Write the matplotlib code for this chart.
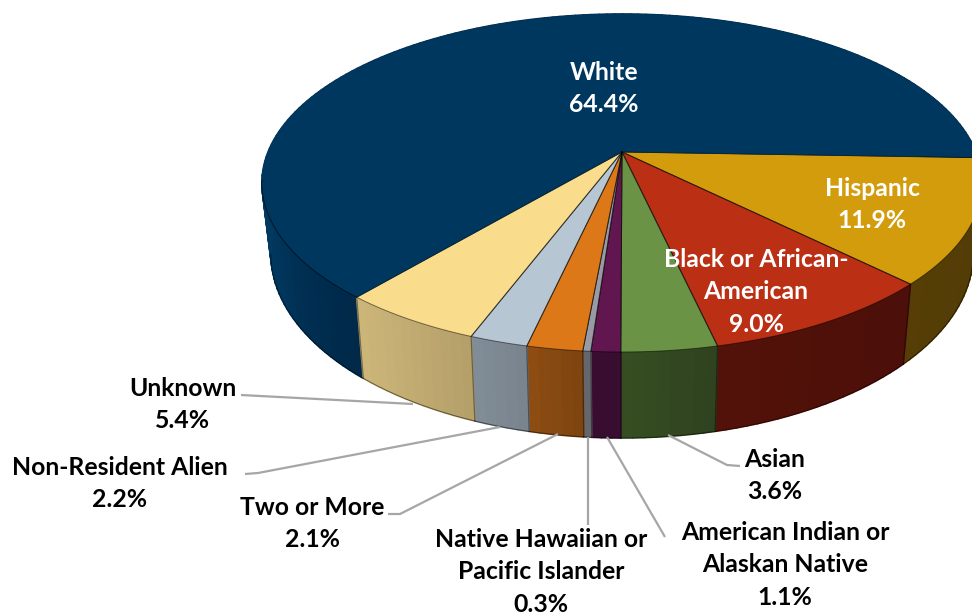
import numpy as np
import matplotlib
matplotlib.use("Agg")
import matplotlib.pyplot as plt
from matplotlib.collections import PolyCollection
from matplotlib.colors import to_rgb
from matplotlib.patches import Polygon

# Enrollment shares, clockwise from the Hispanic slice
categories = ["Hispanic", "Black or African-American", "Asian",
              "American Indian or Alaskan Native",
              "Native Hawaiian or Pacific Islander", "Two or More",
              "Non-Resident Alien", "Unknown", "White"]
shares = [11.9, 9.0, 3.6, 1.1, 0.3, 2.1, 2.2, 5.4, 64.4]

top_colors = ["#d29c0c", "#bb2f14", "#6a9345", "#621650", "#999aa5",
              "#dc7818", "#b6c6d2", "#fadd8c", "#00375f"]
side_colors = [("#533c06", "#563e06"), ("#4c0f09", "#531209"),
               ("#2f4320", "#364d22"), ("#380d2f", "#380d2f"),
               ("#66666e", "#66666e"), ("#7f4510", "#8c4c12"),
               ("#79848e", "#808c96"), ("#b5a06a", "#ccb578"),
               ("#00294a", "#013a62")]

# Slice text: (lines, centre x, first-line y, colour)
slice_labels = [
    (["White", "64.4%"], 604, 71, "white"),
    (["Hispanic", "11.9%"], 872, 187, "white"),
    (["Black or African-", "American", "9.0%"], 756, 258, "white"),
    (["Asian", "3.6%"], 775, 458, "black"),
    (["American Indian or", "Alaskan Native", "1.1%"], 785, 531, "black"),
    (["Native Hawaiian or", "Pacific Islander", "0.3%"], 541, 538, "black"),
    (["Two or More", "2.1%"], 312, 506, "black"),
    (["Non-Resident Alien", "2.2%"], 120, 466, "black"),
    (["Unknown", "5.4%"], 183, 387, "black"),
]
leaders = [
    [(241, 395), (413, 404)],
    [(245, 474), (258, 473), (500, 427)],
    [(388, 514), (400, 514), (558, 434)],
    [(588, 437), (588, 525)],
    [(607, 437), (665, 537)],
    [(668, 435), (727, 465), (740, 466)],
]

plt.rcParams["font.family"] = ["Lato", "DejaVu Sans"]

# Perspective parameters of the tilted disc, in pixels
CX, CY = 622.0, 152.0
A, B, K = 354.0, 163.3, 0.1834
START_DEG = -1.96
LINE_PITCH = 32.4


def top_rim(deg):
    """Rim point of the upper disc for a clockwise angle in degrees."""
    t = np.radians(deg)
    u, v = np.cos(t), np.sin(t)
    w = 1 + K * v
    return CX + A * u / w, CY - B * v / w


def bottom_rim(deg):
    """Matching rim point of the lower, slightly offset disc."""
    x, y = top_rim(deg)
    return CX + 0.975 * (x - CX), CY + 68 + 1.09 * (y - CY)


fig = plt.figure(figsize=(9.72, 6.14), dpi=100)
ax = fig.add_axes([0, 0, 1, 1])
ax.set_xlim(0, 972)
ax.set_ylim(614, 0)
ax.axis("off")

edges = np.concatenate([[0], np.cumsum(shares)]) * 3.6
bounds = START_DEG - edges  # clockwise in screen space

# Outer wall: White first so that nearer slices sit over it
order = [8, 0, 1, 2, 3, 4, 5, 6, 7]
for i in order:
    a0, a1 = bounds[i], bounds[i + 1]
    n = max(3, int(abs(a1 - a0) / 1.5))
    th = np.linspace(a0, a1, n + 1)
    xt, yt = top_rim(th)
    xb, yb = bottom_rim(th)
    quads = [[(xt[j], yt[j]), (xt[j + 1], yt[j + 1]),
              (xb[j + 1], yb[j + 1]), (xb[j], yb[j])] for j in range(n)]
    c0, c1 = (np.array(to_rgb(c)) for c in side_colors[i])
    # The wall shade runs from the right-hand colour to the left-hand one
    mid_x = 0.5 * (xt[:-1] + xt[1:])
    if i == 8:
        f = np.clip((360 - mid_x) / 100, 0, 1) ** 2
    else:
        f = (mid_x - mid_x.max()) / (mid_x.min() - mid_x.max())
    cols = [tuple(c0 + (c1 - c0) * s) for s in f]
    ax.add_collection(PolyCollection(quads, facecolors=cols, edgecolors=cols,
                                     linewidths=1.2, zorder=2))
    # Lower rim line
    front = yb > CY + 100
    ax.plot(xb[front], yb[front], color=(0, 0, 0, 0.5), lw=0.7, zorder=3)

# Vertical seams between front-facing slices
for d in bounds[1:9]:
    xt, yt = top_rim(d)
    if yt > CY + 20:
        xb, yb = bottom_rim(d)
        ax.plot([xt, xb], [yt, yb], color=(0, 0, 0, 0.4), lw=0.9, zorder=3)

# Upper disc; the White slice keeps a clean far rim
for i in range(len(shares)):
    a0, a1 = bounds[i], bounds[i + 1]
    th = np.linspace(a0, a1, max(3, int(abs(a1 - a0) * 2)))
    xt, yt = top_rim(th)
    pts = np.column_stack([np.r_[CX, xt], np.r_[CY, yt]])
    is_white = categories[i] == "White"
    ax.add_patch(Polygon(pts, closed=True, facecolor=top_colors[i],
                         edgecolor=top_colors[i] if is_white else (0, 0, 0, 0.5),
                         linewidth=0.4 if is_white else 0.7,
                         joinstyle="round", zorder=4))
    if is_white:
        near = yt > CY + 28
        ax.plot(xt[near], yt[near], color=(0, 0, 0, 0.6), lw=0.7, zorder=5)

# Redraw the spokes above the White fill
for d in bounds[:-1]:
    xt, yt = top_rim(d)
    ax.plot([CX, xt], [CY, yt], color=(0, 0, 0, 0.45), lw=0.7, zorder=5)

# Leader lines
for path in leaders:
    xs, ys = zip(*path)
    ax.plot(xs, ys, color="#a6a6a6", lw=1.6, zorder=5,
            solid_capstyle="butt")

# Slice labels, one text per line so the spacing stays even
for lines, x, y, col in slice_labels:
    for k, line in enumerate(lines):
        ax.text(x, y + k * LINE_PITCH + 8.8, line, ha="center", va="baseline",
                color=col, fontsize=17.8, fontweight="bold", zorder=6)

fig.savefig("out.png", dpi=100)
